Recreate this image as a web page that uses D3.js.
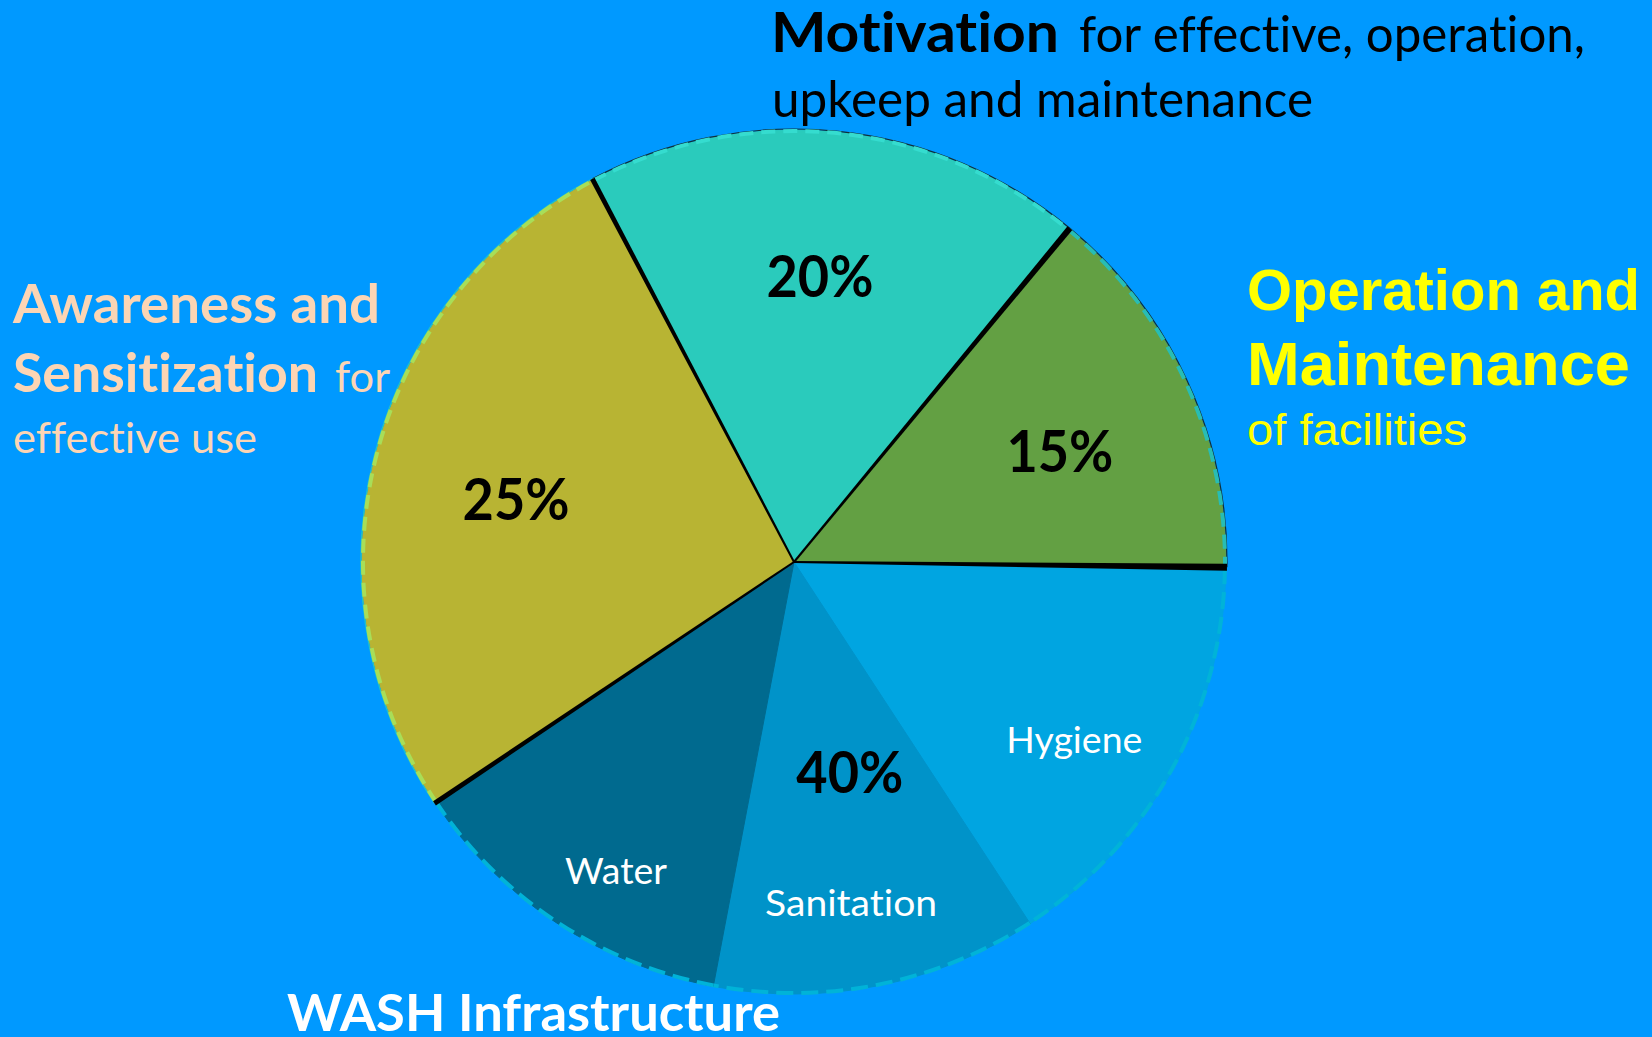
<!DOCTYPE html>
<html lang="en">
<head>
<meta charset="UTF-8" />
<title>WASH programme pie</title>
<script src="https://d3js.org/d3.v7.min.js"></script>
<style>
  body { margin: 0; background: #0099ff; }
  svg { display: block; }
  text { font-variant-ligatures: none; }
</style>
</head>
<body>
<script>
var w = 1652;
var h = 1037;

// slices, clockwise starting at the Awareness / Motivation edge
var categories = ["Motivation", "Operation and Maintenance", "Hygiene", "Sanitation", "Water", "Awareness and Sensitization"];
var values = [18.7, 14.2, 15.6, 12.2, 12.6, 26.7];
var groups = ["Motivation", "Operation and Maintenance", "WASH Infrastructure", "WASH Infrastructure", "WASH Infrastructure", "Awareness and Sensitization"];
var sliceLabels = ["", "", "Hygiene", "Sanitation", "Water", ""];

// shares printed on the pie, one per group
var groupNames = ["Motivation", "Operation and Maintenance", "WASH Infrastructure", "Awareness and Sensitization"];
var groupPercents = ["20%", "15%", "40%", "25%"];

// look
var sliceColors = ["#2acbbc", "#63a043", "#00a5e1", "#0093c9", "#006a8f", "#b8b433"];
var rimColors = ["#35dccf", "#27bdb5", "#00b3d8", "#00b3d8", "#00b3d8", "#a8de58"];
var cx = 794, cy = 562, radius = 432;
var startDeg = -27.75;
var toRad = Math.PI / 180;
// label spots as [degrees clockwise from top, distance from centre]
var pctPolar = [[5.2, 287], [67.4, 288], [165.1, 217], [282.8, 285]];
var sliceLabelPolar = { "Hygiene": [122.4, 332], "Sanitation": [170.5, 346], "Water": [209.9, 357] };
var sepWidth = { "Motivation": 5, "Operation and Maintenance": 6, "WASH Infrastructure": 7, "Awareness and Sensitization": 5 };

var svg = d3.select("body")
    .append("svg")
    .attr("width", w)
    .attr("height", h);

svg.append("rect")
    .attr("width", w)
    .attr("height", h)
    .attr("fill", "#0099ff");

var pie = d3.pie()
    .sort(null)
    .value(function(d) { return d; })
    .startAngle(startDeg * toRad)
    .endAngle(startDeg * toRad + 2 * Math.PI);

var arcs = pie(values);
var arc = d3.arc().innerRadius(0).outerRadius(radius);

var g = svg.append("g")
    .attr("transform", "translate(" + cx + "," + cy + ")");

// slices
g.selectAll("path.slice")
    .data(arcs)
    .enter()
    .append("path")
    .attr("class", "slice")
    .attr("d", arc)
    .attr("fill", function(d, i) { return sliceColors[i]; })
    .attr("stroke", function(d, i) { return sliceColors[i]; })
    .attr("stroke-width", 1);

// rim: dashed outline per slice
function rimPath(r, a0, a1) {
    var p = d3.path();
    p.arc(0, 0, r, a0 - Math.PI / 2, a1 - Math.PI / 2);
    return p.toString();
}

g.selectAll("path.rimline")
    .data(arcs.filter(function(d, i) { return i < 2 || i == 5; }))
    .enter()
    .append("path")
    .attr("class", "rimline")
    .attr("d", function(d) { return rimPath(radius + 1, d.startAngle, d.endAngle); })
    .attr("fill", "none")
    .attr("stroke", function(d) { return d.index == 5 ? "#22c4c4" : "#10303a"; })
    .attr("stroke-width", 1.2);

g.selectAll("path.rim")
    .data(arcs)
    .enter()
    .append("path")
    .attr("class", "rim")
    .attr("d", function(d) { return rimPath(radius - 1, d.startAngle, d.endAngle); })
    .attr("fill", "none")
    .attr("stroke", function(d, i) { return rimColors[i]; })
    .attr("stroke-width", 4)
    .attr("stroke-dasharray", function(d, i) { return i > 1 && i < 5 ? "17 8" : "14 8"; });

// black edges where one group meets the next
function wedge(a, wIn, wOut) {
    var ux = Math.sin(a), uy = -Math.cos(a);
    var px = -uy, py = ux;
    var ex = ux * (radius + 1), ey = uy * (radius + 1);
    return "M" + [px * wIn, py * wIn] +
        "L" + [ex + px * wOut, ey + py * wOut] +
        "L" + [ex - px * wOut, ey - py * wOut] +
        "L" + [-px * wIn, -py * wIn] + "Z";
}

var edges = arcs.filter(function(d, i) {
    return groups[i] != groups[(i + groups.length - 1) % groups.length];
});

g.selectAll("path.edge")
    .data(edges)
    .enter()
    .append("path")
    .attr("class", "edge")
    .attr("d", function(d) { return wedge(d.startAngle, 1, sepWidth[groups[d.index]] / 2); })
    .attr("fill", "#000");

// group percentages
var calibri = "Lato, 'Open Sans', sans-serif";

groupNames.forEach(function(name, k) {
    var a = pctPolar[k][0] * toRad;
    var r = pctPolar[k][1];
    g.append("text")
        .attr("x", Math.sin(a) * r)
        .attr("y", -Math.cos(a) * r)
        .attr("dy", "0.36em")
        .attr("text-anchor", "middle")
        .attr("font-family", calibri)
        .attr("font-weight", 700)
        .attr("font-size", 58)
        .attr("textLength", 107)
        .attr("lengthAdjust", "spacingAndGlyphs")
        .attr("fill", "#000")
        .text(groupPercents[k]);
});

// slice names inside the WASH slices
var sliceWidths = { "Hygiene": 136, "Sanitation": 172, "Water": 102 };
sliceLabels.forEach(function(lbl) {
    if (!lbl) return;
    var pos = sliceLabelPolar[lbl];
    var a = pos[0] * toRad;
    g.append("text")
        .attr("x", Math.sin(a) * pos[1])
        .attr("y", -Math.cos(a) * pos[1])
        .attr("dy", "0.36em")
        .attr("text-anchor", "middle")
        .attr("font-family", calibri)
        .attr("font-size", 36)
        .attr("textLength", sliceWidths[lbl])
        .attr("lengthAdjust", "spacingAndGlyphs")
        .attr("fill", "#fff")
        .text(lbl);
});

// notes around the pie
function note(txt, x, y, size, weight, color, len, family) {
    svg.append("text")
        .attr("x", x)
        .attr("y", y)
        .attr("font-family", family || calibri)
        .attr("font-weight", weight)
        .attr("font-size", size)
        .attr("textLength", len)
        .attr("lengthAdjust", "spacingAndGlyphs")
        .attr("fill", color)
        .text(txt);
}

note("Motivation", 771, 52, 56, 700, "#000", 288);
note("for effective, operation,", 1079, 52, 50, 400, "#000", 506);
note("upkeep and maintenance", 772, 117, 50, 400, "#000", 541);

var arial = "'Liberation Sans', Arial, sans-serif";
note("Operation and", 1247, 310, 58, 700, "#ffff00", 393, arial);
note("Maintenance", 1247, 385, 62, 700, "#ffff00", 383, arial);
note("of facilities", 1247, 445, 45, 400, "#ffff00", 220, arial);

note("Awareness and", 13, 323, 53, 700, "#fcd5b4", 367);
note("Sensitization", 13, 392, 53, 700, "#fcd5b4", 305);
note("for", 335, 392, 42, 400, "#fcd5b4", 55);
note("effective use", 13, 453, 42, 400, "#fcd5b4", 244);

note("WASH Infrastructure", 287, 1031, 52, 700, "#fff", 493);
</script>
</body>
</html>
